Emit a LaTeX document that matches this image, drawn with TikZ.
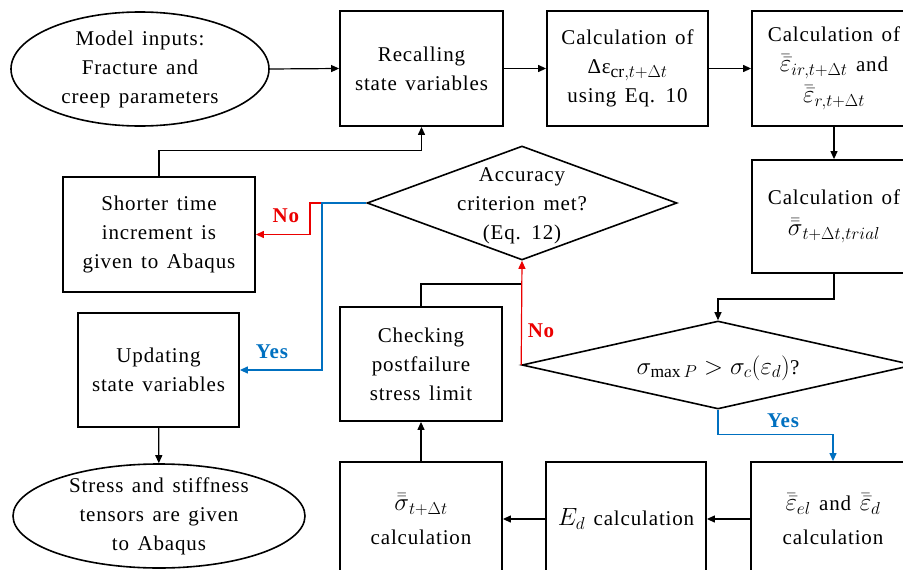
\documentclass[tikz,border=0pt]{standalone}
\usepackage{fontspec}
\setmainfont{Liberation Serif}[LetterSpace=4,WordSpace=1.4]
\DeclareMathSizes{21}{23}{17.5}{13}
\usetikzlibrary{arrows.meta,shapes.geometric}
\definecolor{nored}{RGB}{235,0,0}
\definecolor{yesblue}{RGB}{0,112,192}
\begin{document}
\begin{tikzpicture}[x=1pt,y=-1pt,
  font=\fontsize{21}{29}\selectfont,
  box/.style={draw, line width=1.8pt, rectangle, inner sep=0pt, align=center},
  oval/.style={draw, line width=1.6pt, ellipse, inner sep=0pt},
  decision/.style={draw, line width=1.6pt, diamond, inner sep=0pt},
  txt/.style={align=center, inner sep=0pt},
  flow/.style={line width=1.2pt, -{Triangle[length=8pt,width=7pt]}},
  link/.style={line width=1.2pt},
  tag/.style={font=\fontsize{21}{24}\selectfont\bfseries, inner sep=0pt},
]
\useasboundingbox (0,0) rectangle (903,570);
\clip (0,0) rectangle (903,570);

% top row
\node[oval, minimum width=258, minimum height=114] (inputs) at (140,69) {};
\node[txt] (inputstext) at (inputs) {Model inputs:\\Fracture and\\creep parameters};
\node[box, minimum width=163, minimum height=115] (recall) at (421.5,68.5) {Recalling\\state variables};
\node[box, minimum width=161, minimum height=115] (dinc) at (627.5,68.5) {Calculation of\\Δε$_{\mathrm{cr},t+\Delta t}$\\using Eq. 10};
\node[box, minimum width=164, minimum height=115] (ebar) at (834,68.5) {Calculation of\\[1pt]$\bar{\bar{\varepsilon}}_{ir,t+\Delta t}$ and\\[2pt]$\bar{\bar{\varepsilon}}_{r,t+\Delta t}$};

% middle rows
\node[box, minimum width=164, minimum height=113] (strial) at (834,216.5) {Calculation of\\[2pt]$\bar{\bar{\sigma}}_{t+\Delta t,trial}$};
\node[box, minimum width=192, minimum height=115] (shorter) at (159,234.5) {Shorter time\\increment is\\given to Abaqus};
\node[decision, minimum width=310, minimum height=114] (acc) at (522,203) {};
\node[txt] (acctext) at (522,206) {Accuracy\\criterion met?\\(Eq. 12)};
\node[box, minimum width=161, minimum height=114] (update) at (158.5,370) {Updating\\state variables};
\node[box, minimum width=162, minimum height=114] (check) at (421,364) {Checking\\postfailure\\stress limit};
\node[decision, minimum width=392, minimum height=88] (dmax) at (718,365) {};
\node[txt] (dmaxtext) at (718,368) {$\sigma_{\mathrm{max}\,P} > \sigma_c(\varepsilon_d)$?};

% bottom row
\node[oval, minimum width=292, minimum height=104] (stress) at (159,516) {};
\node[txt] (stresstext) at (stress) {Stress and stiffness\\tensors are given\\to Abaqus};
\node[box, minimum width=162, minimum height=114] (sig) at (421,519) {$\bar{\bar{\sigma}}_{t+\Delta t}$\\[5pt]calculation};
\node[box, minimum width=160, minimum height=114] (Ed) at (626,519) {$E_d$ calculation};
\node[box, minimum width=164, minimum height=114] (eel) at (833,519) {$\bar{\bar{\varepsilon}}_{el}$ and $\bar{\bar{\varepsilon}}_d$\\[5pt]calculation};

% junction points
\coordinate (split) at (322,203);
\coordinate (merge) at (522,284);

% main flow
\draw[flow] (inputs.east) -- (recall.west);
\draw[flow] (recall) -- (dinc);
\draw[flow] (dinc) -- (ebar);
\draw[flow] (ebar) -- (strial);
\draw[flow] (strial.south) -- ++(0,25) -| (dmax.north);
\draw[flow, yesblue] (dmax.south) -- ++(0,25) -| (eel.north);
\draw[flow] (eel) -- (Ed);
\draw[flow] (Ed) -- (sig);
\draw[flow] (sig) -- (check);
\draw[link] (check.north) |- (merge);
\draw[flow, nored] (dmax.west) -- (acc.south);
\draw[flow, nored] (split) -- ++(-12,0) |- (shorter.east);
\draw[flow, yesblue] (acc.west) -- (split) |- (update.east);
\draw[flow] (shorter.north) -- ++(0,-26) -| (recall.south);
\draw[flow] (update) -- (stress);

% branch labels
\node[tag, text=nored] (no1) at (286,216) {No};
\node[tag, text=yesblue] (yes1) at (272,352) {Yes};
\node[tag, text=nored] (no2) at (541,331) {No};
\node[tag, text=yesblue] (yes2) at (783,421) {Yes};
\end{tikzpicture}
\end{document}
